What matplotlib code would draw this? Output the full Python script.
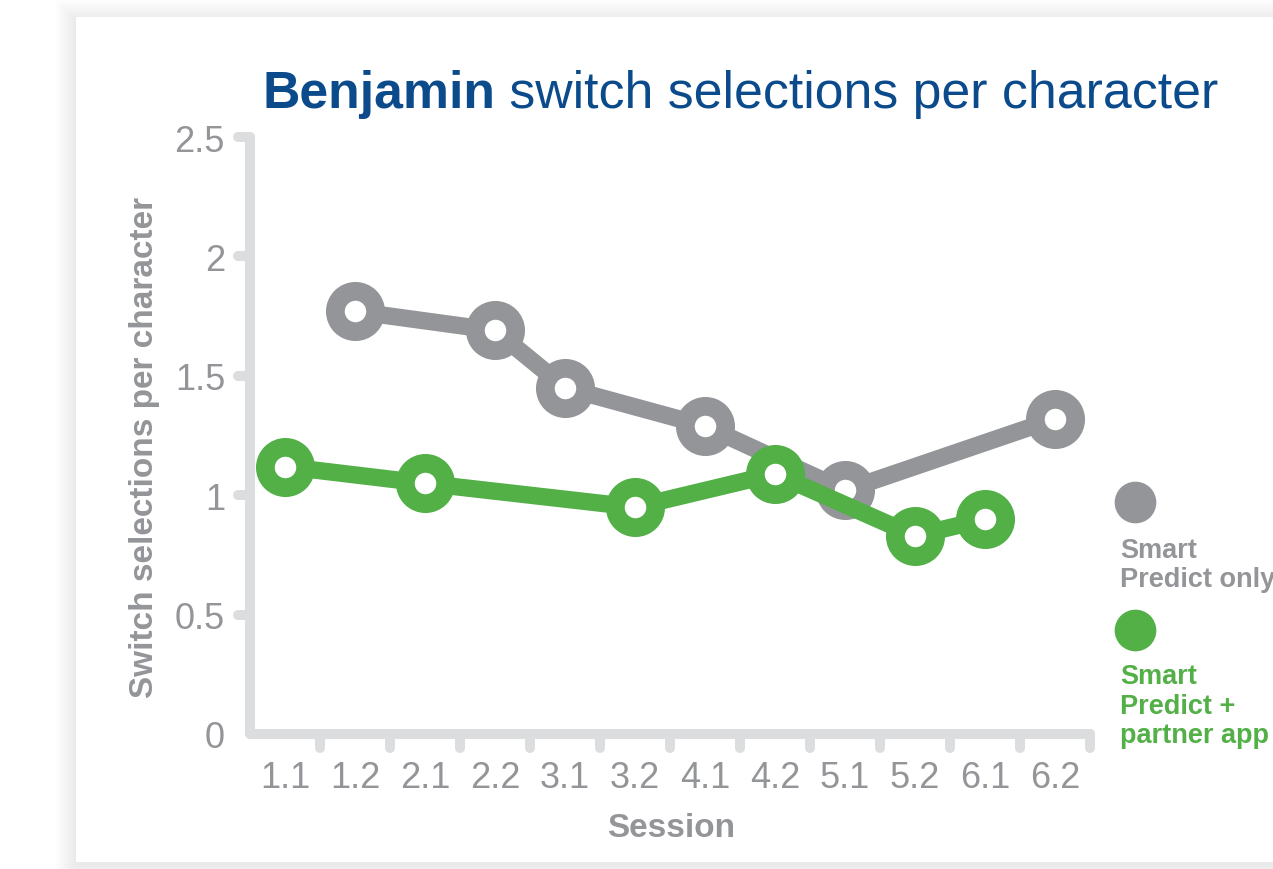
import matplotlib
matplotlib.use("Agg")
import matplotlib.pyplot as plt
from matplotlib.patches import Rectangle
from matplotlib.lines import Line2D

plt.rcParams['font.family'] = ['Liberation Sans', 'DejaVu Sans']

# data
sessions = ['1.1', '1.2', '2.1', '2.2', '3.1', '3.2',
            '4.1', '4.2', '5.1', '5.2', '6.1', '6.2']
only_sessions = ['1.2', '2.2', '3.1', '4.1', '5.1', '6.2']
only_values = [1.77, 1.69, 1.45, 1.29, 1.02, 1.32]
partner_sessions = ['1.1', '2.1', '3.2', '4.2', '5.2', '6.1']
partner_values = [1.12, 1.05, 0.95, 1.09, 0.83, 0.90]
y_ticks = [0, 0.5, 1, 1.5, 2, 2.5]
y_labels = ['0', '0.5', '1', '1.5', '2', '2.5']

GREY = '#939598'
GREEN = '#52b047'
BLUE = '#0b4a8b'
AXIS = '#dcdddf'

W, H = 1273, 870
fig = plt.figure(figsize=(W / 100, H / 100), dpi=100)
fig.patch.set_facecolor('white')


def fx(px):
    return px / W


def fy(py):
    return 1 - py / H


# card with a soft shadow
card_l, card_t, card_b, card_r = 76, 17.5, 863, 1320
for k in range(1, 22):
    fig.patches.append(Rectangle(
        (fx(card_l - k), fy(card_b + 3 + k)),
        (card_r - card_l + 2 * k) / W, (card_b - card_t + 2 * k) / H,
        transform=fig.transFigure, facecolor='black', alpha=0.0045,
        edgecolor='none', zorder=0))
fig.patches.append(Rectangle(
    (fx(card_l), fy(card_b)), (card_r - card_l) / W, (card_b - card_t) / H,
    transform=fig.transFigure, facecolor='white', edgecolor='none', zorder=1))

# axes placed so 0 sits at y=735 px and 2.5 at y=138 px
ax = fig.add_axes([fx(250), fy(735), 840 / W, (735 - 138) / H])
ax.set_zorder(2)
ax.set_facecolor('none')
ax.set_xlim(-0.5, len(sessions) - 0.5)
ax.set_ylim(0, 2.5)
for s in ax.spines.values():
    s.set_visible(False)

# axis lines and rounded tick stubs
lw_axis = 7.2
x0, x1 = -0.5, len(sessions) - 0.5
ax.plot([x0, x0, x1], [2.5, 0, 0], color=AXIS, lw=lw_axis,
        solid_capstyle='round', solid_joinstyle='round', clip_on=False, zorder=1)
for t in y_ticks[1:]:
    ax.plot([x0, x0 - 0.17], [t, t], color=AXIS, lw=lw_axis,
            solid_capstyle='round', clip_on=False, zorder=1)
for i in range(1, len(sessions) + 1):
    ax.plot([i - 0.5, i - 0.5], [0, -0.058], color=AXIS, lw=lw_axis,
            solid_capstyle='round', clip_on=False, zorder=1)

ax.set_yticks(y_ticks, y_labels)
ax.set_xticks(range(len(sessions)), sessions)
ax.tick_params(axis='both', length=0, colors=GREY, labelsize=26)
ax.tick_params(axis='y', pad=18)
ax.tick_params(axis='x', pad=19)

xo = [sessions.index(s) for s in only_sessions]
xp = [sessions.index(s) for s in partner_sessions]
ax.plot(xo, only_values, color=GREY, lw=12.5, marker='o', markersize=29,
        markerfacecolor='white', markeredgecolor=GREY, markeredgewidth=13.5,
        clip_on=False, zorder=3)
ax.plot(xp, partner_values, color=GREEN, lw=12.5, marker='o', markersize=29,
        markerfacecolor='white', markeredgecolor=GREEN, markeredgewidth=13.5,
        clip_on=False, zorder=4)

# title in two weights
renderer = fig.canvas.get_renderer()
t1 = fig.text(fx(262), fy(108), 'Benjamin', fontsize=37.3, weight='bold',
              color=BLUE, va='baseline', ha='left', zorder=3)
bb = t1.get_window_extent(renderer)
fig.text(bb.x1 / W, fy(108), ' switch selections per character', fontsize=37.3,
         color=BLUE, va='baseline', ha='left', zorder=3)

fig.text(fx(145), fy(447), 'Switch selections per character', rotation=90,
         fontsize=24, weight='bold', color=GREY, ha='center', va='center',
         zorder=3)
fig.text(fx(671), fy(837), 'Session', fontsize=24, weight='bold', color=GREY,
         ha='center', va='baseline', zorder=3)

# legend
fig.add_artist(Line2D([fx(1135)], [fy(503)], marker='o', markersize=29,
                      color=GREY, transform=fig.transFigure, zorder=3))
fig.add_artist(Line2D([fx(1135)], [fy(631)], marker='o', markersize=29,
                      color=GREEN, transform=fig.transFigure, zorder=3))
fig.text(fx(1120), fy(587), 'Smart\nPredict only', fontsize=19.5, weight='bold',
         color=GREY, ha='left', va='baseline', linespacing=1.17, zorder=3)
fig.text(fx(1120), fy(743), 'Smart\nPredict +\npartner app', fontsize=19.5,
         weight='bold', color=GREEN, ha='left', va='baseline', linespacing=1.17,
         zorder=3)

fig.savefig('out.png', dpi=100)
